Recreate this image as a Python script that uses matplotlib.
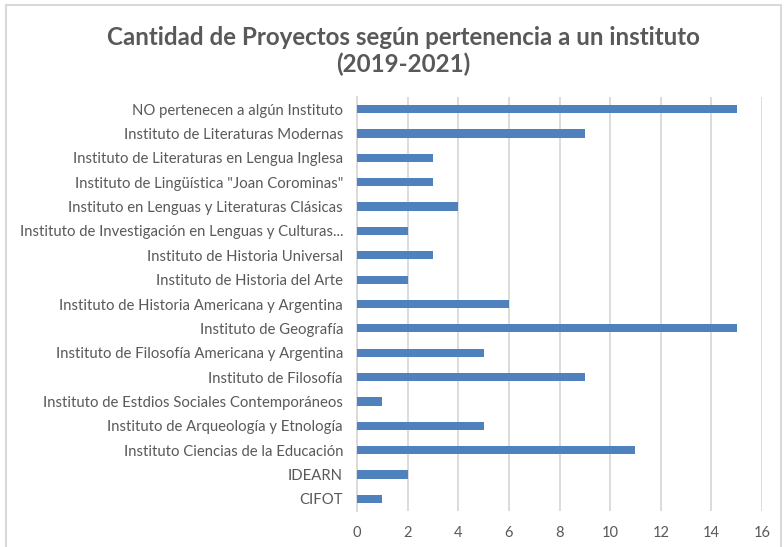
import matplotlib
matplotlib.use("Agg")
import matplotlib.pyplot as plt
from matplotlib.patches import Rectangle

categories = [
    "NO pertenecen a algún Instituto",
    "Instituto de Literaturas Modernas",
    "Instituto de Literaturas en Lengua Inglesa",
    "Instituto de Lingüística \"Joan Corominas\"",
    "Instituto en Lenguas y Literaturas Clásicas",
    "Instituto de Investigación en Lenguas y Culturas...",
    "Instituto de Historia Universal",
    "Instituto de Historia del Arte",
    "Instituto de Historia Americana y Argentina",
    "Instituto de Geografía",
    "Instituto de Filosofía Americana y Argentina",
    "Instituto de Filosofía",
    "Instituto de Estdios Sociales Contemporáneos",
    "Instituto de Arqueología y Etnología",
    "Instituto Ciencias de la Educación",
    "IDEARN",
    "CIFOT",
]
values = [15, 9, 3, 3, 4, 2, 3, 2, 6, 15, 5, 9, 1, 5, 11, 2, 1]
xticks = [0, 2, 4, 6, 8, 10, 12, 14, 16]
title = "Cantidad de Proyectos según pertenencia a un instituto\n(2019-2021)"

plt.rcParams['font.family'] = ['Lato', 'DejaVu Sans']
text_color = "#595959"
grid_color = "#D9D9D9"
bar_color = "#4F81BD"

fig = plt.figure(figsize=(7.84, 5.47), dpi=100)
ax = fig.add_axes([357/784, 1-511/547, (762-357)/784, (511-97)/547])

n = len(categories)
ypos = list(range(n))[::-1]
ax.barh(ypos, values, height=0.34, color=bar_color, zorder=3)
ax.set_ylim(-0.5, n - 0.5)
ax.set_xlim(0, 16)
ax.set_xticks(xticks)
ax.set_xticklabels([str(t) for t in xticks], fontsize=10.5, color=text_color)
ax.set_yticks(ypos)
ax.set_yticklabels(categories, fontsize=10.7, color=text_color)
ax.tick_params(axis='both', length=0)
ax.tick_params(axis='y', pad=10)
ax.tick_params(axis='x', pad=11)
ax.xaxis.grid(True, color=grid_color, linewidth=1.3, zorder=0)
for s in ['top', 'right', 'bottom']:
    ax.spines[s].set_visible(False)
ax.spines['left'].set_color(grid_color)
ax.spines['left'].set_linewidth(1.3)

fig.text(403/784, 1-51/547, title, ha='center', va='center', fontsize=17.4,
         fontweight='bold', color=text_color, linespacing=1.15)

fig.patches.append(Rectangle((6/784, -0.05), (781-6)/784, 1.05 - 5/547,
                             transform=fig.transFigure, fill=False,
                             edgecolor=grid_color, linewidth=1.5))

fig.savefig("out.png", dpi=100)
